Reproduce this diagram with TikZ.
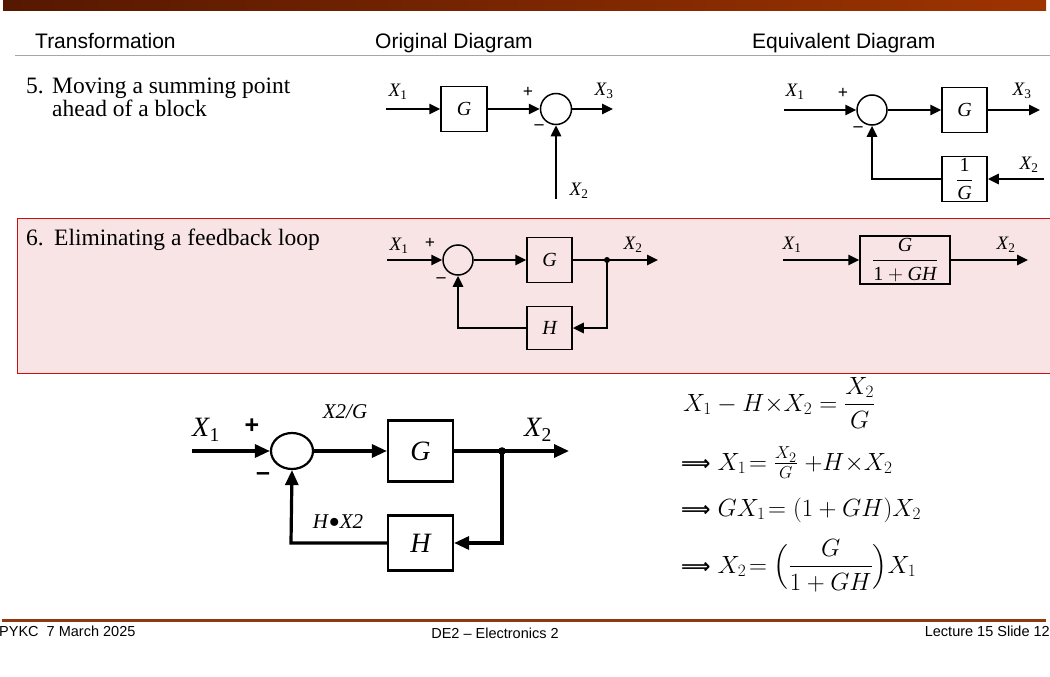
\documentclass[tikz,border=0pt]{standalone}
\usepackage{amsmath}
\usepackage[no-math]{fontspec}
\setmainfont{Liberation Serif}
\newfontfamily\hdr{Liberation Sans}
\newfontfamily\djv{DejaVu Sans}
\usetikzlibrary{arrows.meta,shapes.geometric}
\definecolor{pinkbg}{HTML}{F8E4E4}
\definecolor{boxred}{HTML}{C81010}
\definecolor{barL}{HTML}{561800}
\definecolor{barR}{HTML}{9E3400}
\definecolor{rulec}{HTML}{8E3A10}
\newcommand\Xv[1]{\textit{X}\kern-0.5pt\textsubscript{#1}}
\newcommand\impl{{\djv\bfseries\fontsize{20.5}{22}\selectfont ⟹}\kern7pt}
\begin{document}
\begin{tikzpicture}[x=1pt,y=-1pt,
  sig/.style={line width=2.6pt,-{Triangle[length=11pt,width=10pt]}},
  bsig/.style={line width=3.2pt,-{Triangle[length=15pt,width=13pt]}},
  blk/.style={draw,line width=1.5pt,inner sep=0pt,font=\fontsize{20}{22}\selectfont\itshape},
  bblk/.style={draw,line width=2.2pt,inner sep=0pt,font=\fontsize{28}{30}\selectfont\itshape},
  sumc/.style={circle,draw,line width=1.5pt,inner sep=0pt},
  bsum/.style={ellipse,draw,line width=2.2pt,inner sep=0pt,minimum width=42pt,minimum height=36pt},
  lbl/.style={font=\fontsize{19}{20}\selectfont,inner sep=0pt},
  blbl/.style={font=\fontsize{28}{30}\selectfont,inner sep=0pt},
  ilbl/.style={font=\fontsize{21}{24}\selectfont\itshape,inner sep=0pt},
  pm/.style={font=\fontsize{18}{18}\selectfont\bfseries,inner sep=0pt},
  bpm/.style={font=\fontsize{25}{26}\selectfont\hdr\bfseries,inner sep=0pt},
  htxt/.style={font=\fontsize{21}{24}\selectfont\hdr,inner sep=0pt,anchor=base west},
  stxt/.style={font=\fontsize{23.5}{26}\selectfont,inner sep=0pt,anchor=base west},
  ftxt/.style={font=\fontsize{14.5}{16}\selectfont\hdr,inner sep=0pt},
  eq/.style={font=\fontsize{27}{32}\selectfont,inner sep=0pt,anchor=base west}
]
\clip (0,0) rectangle (1050,677);
\useasboundingbox (0,0) rectangle (1050,677);
\fill[white] (0,0) rectangle (1050,677);
% header bar
\shade[left color=barL,right color=barR] (3,1) rectangle (1046,11);
% header texts
\node[htxt] (hT) at (35,49) {Transformation};
\node[htxt] (hO) at (375,49) {Original Diagram};
\node[htxt] (hE) at (752,49) {Equivalent Diagram};
\draw[gray!70,line width=1pt] (15,56) -- (1050,56);
% row 5 text
\node[stxt] (n5) at (26,93) {5.};
\node[stxt] (t5a) at (52,93) {Moving a summing point};
\node[stxt] (t5b) at (52,117) {ahead of a block};
% pink box row 6
\filldraw[fill=pinkbg,draw=boxred,line width=1pt] (17,218) rectangle (1060,373);
\node[stxt] (n6) at (26,245) {6.};
\node[stxt] (t6) at (54,245) {Eliminating a feedback loop};

% ---- diagram 5 original
\node[blk,minimum width=46pt,minimum height=45pt] (aG) at (464,109) {G};
\node[sumc,minimum size=31pt] (aS) at (556,109) {};
\coordinate (aIn) at (386,109);
\coordinate (aOut) at (613,109);
\coordinate (aX2) at (556,199);
\draw[sig] (aIn) -- (aG.west);
\draw[sig] (aG.east) -- (aS.west);
\draw[sig] (aS.east) -- (aOut);
\draw[sig] (aX2) -- (aS.south);
\node[lbl] (aL1) at (398,92) {\Xv1};
\node[pm] (aP) at (528,92) {+};
\node[pm] (aM) at (539,127) {–};
\node[lbl] (aL3) at (604,91) {\Xv3};
\node[lbl] (aL2) at (579,191) {\Xv2};

% ---- diagram 5 equivalent
\node[sumc,minimum size=30pt] (bS) at (872,110) {};
\node[blk,minimum width=45pt,minimum height=45pt] (bG) at (964.5,110) {G};
\node[blk,minimum width=45pt,minimum height=45pt] (bI) at (964.5,179) {$\dfrac{\textup{1}}{\textit{G}}$};
\coordinate (bIn) at (784,110);
\coordinate (bOut) at (1040,110);
\coordinate (bX2) at (1044,179);
\coordinate (bC) at (872,179);
\draw[sig] (bIn) -- (bS.west);
\draw[sig] (bS.east) -- (bG.west);
\draw[sig] (bG.east) -- (bOut);
\draw[sig] (bX2) -- (bI.east);
\draw[sig] (bI.west) -- (bC) -- (bS.south);
\node[lbl] (bL1) at (795,92) {\Xv1};
\node[pm] (bP) at (843,93) {+};
\node[pm] (bM) at (858,129) {–};
\node[lbl] (bL3) at (1022,91) {\Xv3};
\node[lbl] (bL2) at (1029,165) {\Xv2};

% ---- diagram 6 original
\node[sumc,minimum size=30pt] (cS) at (458,260) {};
\node[blk,minimum width=45pt,minimum height=45pt] (cG) at (549.5,260) {G};
\node[blk,minimum width=45pt,minimum height=43pt] (cH) at (549.5,328) {H};
\coordinate (cIn) at (387,260);
\coordinate (cD) at (607,260);
\coordinate (cOut) at (658,260);
\coordinate (cR) at (607,328);
\coordinate (cL) at (458,328);
\draw[sig] (cIn) -- (cS.west);
\draw[sig] (cS.east) -- (cG.west);
\draw[sig] (cG.east) -- (cOut);
\fill (cD) circle (3);
\draw[sig] (cD) -- (cR) -- (cH.east);
\draw[sig] (cH.west) -- (cL) -- (cS.south);
\node[lbl] (cL1) at (399,246) {\Xv1};
\node[pm] (cP) at (430,243) {+};
\node[pm] (cM) at (441,280) {–};
\node[lbl] (cL2) at (633,245) {\Xv2};

% ---- diagram 6 equivalent
\node[blk,minimum width=90pt,minimum height=48pt] (dB) at (905,260) {$\dfrac{\textit{G}}{\textup{1} + \textit{GH}}$};
\coordinate (dIn) at (783,260);
\coordinate (dOut) at (1028,260);
\draw[sig] (dIn) -- (dB.west);
\draw[sig] (dB.east) -- (dOut);
\node[lbl] (dL1) at (792,245) {\Xv1};
\node[lbl] (dL2) at (1006,245) {\Xv2};

% ---- big diagram
\node[bsum] (eS) at (292,451) {};
\node[bblk,minimum width=65pt,minimum height=61pt] (eG) at (420.5,451) {G};
\node[bblk,minimum width=65pt,minimum height=55pt] (eH) at (420.5,543) {H};
\coordinate (eIn) at (192,451);
\coordinate (eD) at (502,451);
\coordinate (eOut) at (569,451);
\coordinate (eR) at (502,543);
\coordinate (eL) at (291,543);
\draw[bsig] (eIn) -- (eS.west);
\draw[bsig] (eS.east) -- (eG.west);
\draw[bsig] (eG.east) -- (eOut);
\fill (eD) circle (3.8);
\draw[bsig] (eD) -- (eR) -- (eH.east);
\draw[bsig] (eH.west) -- (eL) -- (eS.south);
\node[blbl] (eL1) at (206,430) {\Xv1};
\node[bpm] (eP) at (252,426) {+};
\node[bpm] (eM) at (263,477) {–};
\node[ilbl] (eT1) at (345,412) {X2/G};
\node[blbl] (eL2) at (538,430) {\Xv2};
\node[ilbl] (eT2) at (338,524) {H\raisebox{-4.5pt}{\scalebox{1.6}{\textbullet}}X2};

% ---- equations
\node[eq] (q1) at (683,411) {$X_1 - H{\times}X_2 = \dfrac{X_2}{G}$};
\node[eq] (q2) at (681,470) {\impl$X_1\!= \frac{X_2}{G}\ {+}H{\times}X_2$};
\node[eq] (q3) at (681,516) {\impl$GX_1\!= (1+GH)X_2$};
\node[eq] (q4) at (681,573) {\impl$X_2\!= \Bigl(\dfrac{G}{1+GH}\Bigr)X_1$};

% ---- footer
\draw[rulec,line width=3pt] (2,620) -- (1046,620);
\node[ftxt,anchor=base west] (f1) at (-1,636) {PYKC\ \ 7 March 2025};
\node[ftxt,anchor=base] (f2) at (495,638) {DE2 – Electronics 2};
\node[ftxt,anchor=base east] (f3) at (1050,636) {Lecture 15 Slide 12};
\end{tikzpicture}
\end{document}
